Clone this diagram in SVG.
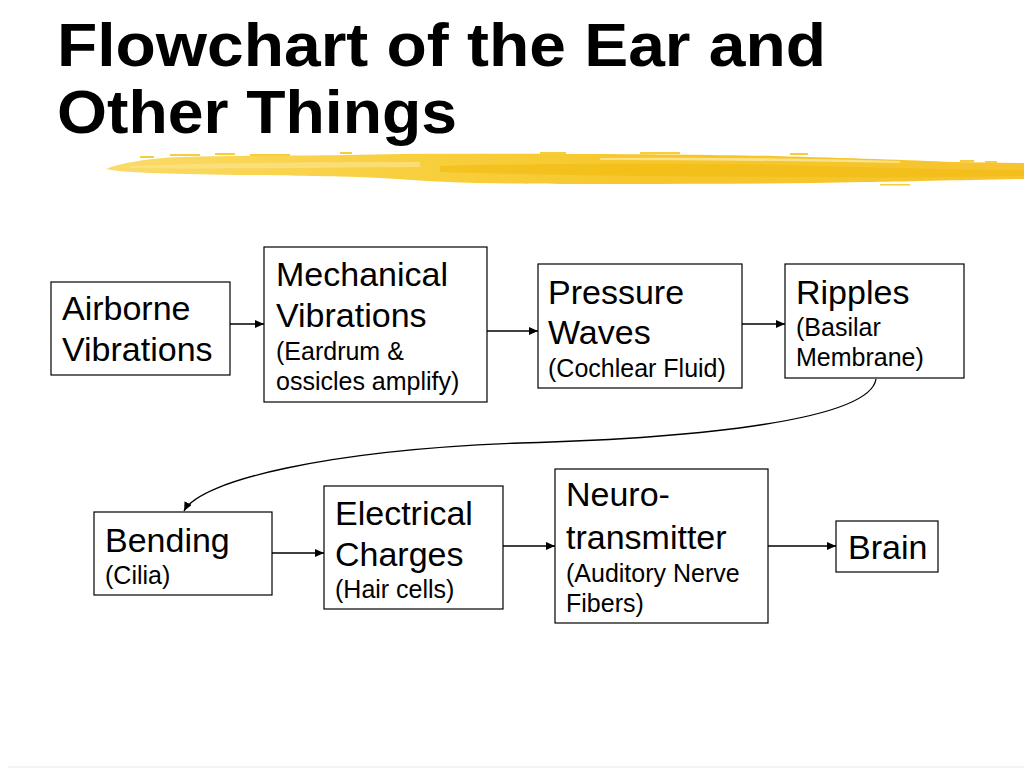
<svg xmlns="http://www.w3.org/2000/svg" width="1024" height="768" viewBox="0 0 1024 768">
<defs>
<style>
.box{fill:#fff;stroke:#000;stroke-width:1.2}
.t{font-family:"Liberation Sans",Arial,sans-serif;font-size:34px;fill:#000}
.s{font-family:"Liberation Sans",Arial,sans-serif;font-size:25px;fill:#000}
.title{font-family:"Liberation Sans",Arial,sans-serif;font-size:62px;font-weight:bold;fill:#000}
.c{fill:none;stroke:#000;stroke-width:1.3}
.fl{fill:#F7CD3A}
</style>
<marker id="ah" markerWidth="10" markerHeight="8" refX="9" refY="4" orient="auto" markerUnits="userSpaceOnUse">
<path d="M0,0 L9,4 L0,8 Z" fill="#000"/>
</marker>
<linearGradient id="yg" x1="0" y1="0" x2="1" y2="0">
<stop offset="0" stop-color="#FADB6A"/>
<stop offset="0.3" stop-color="#F8D040"/>
<stop offset="0.6" stop-color="#F6C72A"/>
<stop offset="1" stop-color="#F5C430"/>
</linearGradient>
</defs>
<rect width="1024" height="768" fill="#fff"/>

<g id="title">
<text class="title" x="57" y="66" textLength="769" lengthAdjust="spacingAndGlyphs">Flowchart of the Ear and</text>
<text class="title" x="57" y="133" textLength="400" lengthAdjust="spacingAndGlyphs">Other Things</text>
</g>

<g id="brush">
<path d="M106,169 C120,163 150,158 180,157 C250,155 300,156 346,155 C420,153 500,154 566,154 C650,154 720,155 775,156 C850,158 910,160 953,162 L1024,163 L1024,179 C960,180 900,182 864,182 C780,184 700,184 626,184 C560,184 520,184 477,183 C430,182 390,178 358,177 C300,176 270,175 239,175 C200,174 170,174 150,173 C130,172 115,171 106,169 Z" fill="url(#yg)"/>
<path d="M440,166 C560,163 700,163 820,166 C900,168 960,170 1024,170 L1024,176 C950,177 880,178 800,177 C680,176 560,176 440,172 Z" fill="#F1B90C" opacity="0.55"/>
<path d="M130,166 C200,163 300,162 420,162 L420,167 C300,168 200,169 130,168 Z" fill="#FCE38C" opacity="0.7"/>
<path d="M600,158 C700,157 800,158 900,161 L900,163 C800,161 700,160 600,160 Z" fill="#FCE7A0" opacity="0.8"/>
<rect class="fl" x="140" y="156" width="14" height="2"/>
<rect class="fl" x="170" y="154" width="30" height="2"/>
<rect class="fl" x="215" y="153" width="20" height="2"/>
<rect class="fl" x="250" y="154" width="40" height="2"/>
<rect class="fl" x="340" y="152" width="12" height="2"/>
<rect class="fl" x="540" y="152" width="26" height="2"/>
<rect class="fl" x="640" y="152" width="40" height="2"/>
<rect class="fl" x="790" y="153" width="18" height="2"/>
<rect class="fl" x="960" y="160" width="14" height="2"/>
<rect class="fl" x="985" y="161" width="12" height="2"/>
<rect class="fl" x="880" y="184" width="30" height="1.5"/>
</g>

<g id="connectors">
<line class="c" x1="230" y1="324" x2="264" y2="324" marker-end="url(#ah)"/>
<line class="c" x1="487" y1="331" x2="538" y2="331" marker-end="url(#ah)"/>
<line class="c" x1="742" y1="324" x2="785" y2="324" marker-end="url(#ah)"/>
<path class="c" d="M876,379 C870,420 700,438 520,443 C330,450 200,480 184,511" marker-end="url(#ah)"/>
<line class="c" x1="272" y1="553" x2="324" y2="553" marker-end="url(#ah)"/>
<line class="c" x1="503" y1="546" x2="555" y2="546" marker-end="url(#ah)"/>
<line class="c" x1="768" y1="546" x2="836" y2="546" marker-end="url(#ah)"/>
</g>

<g id="airborne">
<rect class="box" x="51" y="282" width="179" height="93"/>
<text class="t" x="62" y="320">Airborne</text>
<text class="t" x="62" y="361">Vibrations</text>
</g>

<g id="mechanical">
<rect class="box" x="264" y="247" width="223" height="155"/>
<text class="t" x="276" y="286">Mechanical</text>
<text class="t" x="276" y="327">Vibrations</text>
<text class="s" x="276" y="360">(Eardrum &amp;</text>
<text class="s" x="276" y="390">ossicles amplify)</text>
</g>

<g id="pressure">
<rect class="box" x="538" y="264" width="204" height="124"/>
<text class="t" x="548" y="304">Pressure</text>
<text class="t" x="548" y="344">Waves</text>
<text class="s" x="548" y="377">(Cochlear Fluid)</text>
</g>

<g id="ripples">
<rect class="box" x="785" y="264" width="179" height="114"/>
<text class="t" x="796" y="304">Ripples</text>
<text class="s" x="796" y="336">(Basilar</text>
<text class="s" x="796" y="366">Membrane)</text>
</g>

<g id="bending">
<rect class="box" x="94" y="512" width="178" height="83"/>
<text class="t" x="105" y="552">Bending</text>
<text class="s" x="105" y="584">(Cilia)</text>
</g>

<g id="electrical">
<rect class="box" x="324" y="486" width="179" height="123"/>
<text class="t" x="335" y="525">Electrical</text>
<text class="t" x="335" y="566">Charges</text>
<text class="s" x="335" y="598">(Hair cells)</text>
</g>

<g id="neuro">
<rect class="box" x="555" y="469" width="213" height="154"/>
<text class="t" x="566" y="506">Neuro-</text>
<text class="t" x="566" y="549">transmitter</text>
<text class="s" x="566" y="582">(Auditory Nerve</text>
<text class="s" x="566" y="612">Fibers)</text>
</g>

<g id="brain">
<rect class="box" x="836" y="521" width="102" height="51"/>
<text class="t" x="848" y="559">Brain</text>
</g>

<line x1="8" y1="767" x2="1024" y2="767" stroke="#e6e6e6" stroke-width="1"/>
</svg>
